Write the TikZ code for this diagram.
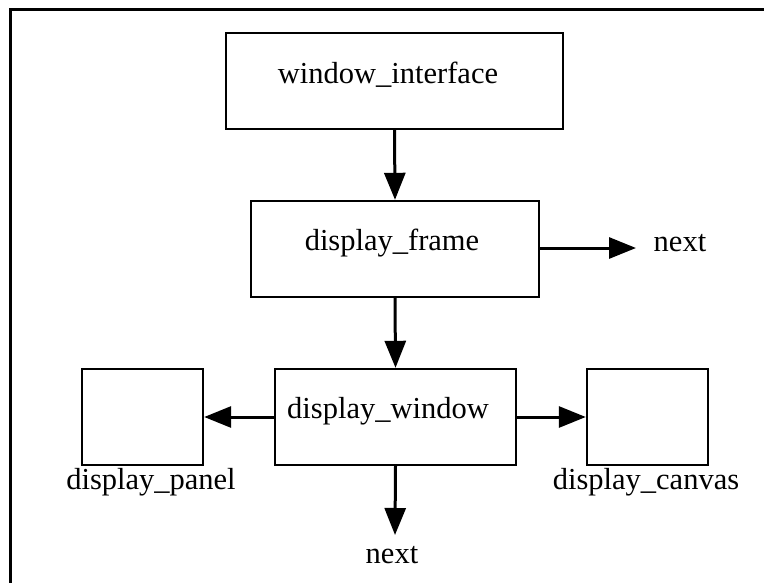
\documentclass[tikz,border=0pt]{standalone}
\usepackage{fontspec}
\setmainfont{Liberation Serif}
\usetikzlibrary{arrows.meta}
\tikzset{
  box/.style={draw, line width=2.4pt, rectangle, inner sep=0pt},
  txt/.style={inner sep=0pt, font=\fontsize{30.5}{36}\selectfont},
  link/.style={line width=3pt, -{Triangle[length=27pt,width=21pt]}}
}
\begin{document}
\begin{tikzpicture}[x=1pt,y=-1pt]
  \useasboundingbox (0,0) rectangle (764,582);
  % open frame: top and left edges only
  \coordinate (ftl) at (10.5,9.5);
  \coordinate (fbl) at (10.5,590);
  \coordinate (ftr) at (770,9.5);
  \draw[line width=2.4pt] (fbl) -- (ftl) -- (ftr);

  % boxes
  \node[box, minimum width=337pt, minimum height=96pt] (wi) at (394.5,81) {};
  \node[box, minimum width=288pt, minimum height=96pt] (df) at (395,249) {};
  \node[box, minimum width=241pt, minimum height=96pt] (dw) at (395.5,417) {};
  \node[box, minimum width=121pt, minimum height=96pt] (dp) at (142.5,417) {};
  \node[box, minimum width=121pt, minimum height=96pt] (dc) at (647.5,417) {};

  % texts
  \node[txt] (twi) at (388,75) {window\_interface};
  \node[txt] (tdf) at (392,243) {display\_frame};
  \node[txt] (tdw) at (388,411) {display\_window};
  \node[txt] (tdp) at (151,482) {display\_panel};
  \node[txt] (tdc) at (646,482) {display\_canvas};
  \node[txt] (n1) at (680,243) {next};
  \node[txt] (n2) at (392,555) {next};

  % arrow end points
  \coordinate (e1) at (636,248);
  \coordinate (e2) at (395,535);

  % connectors
  \draw[link] (wi.south) -- (df.north);
  \draw[link] (df.south) -- (dw.north);
  \draw[link] (df.east |- 0,248) -- (e1);
  \draw[link] (dw.west) -- (dp.east);
  \draw[link] (dw.east) -- (dc.west);
  \draw[link] (dw.south) -- (e2);
\end{tikzpicture}
\end{document}
